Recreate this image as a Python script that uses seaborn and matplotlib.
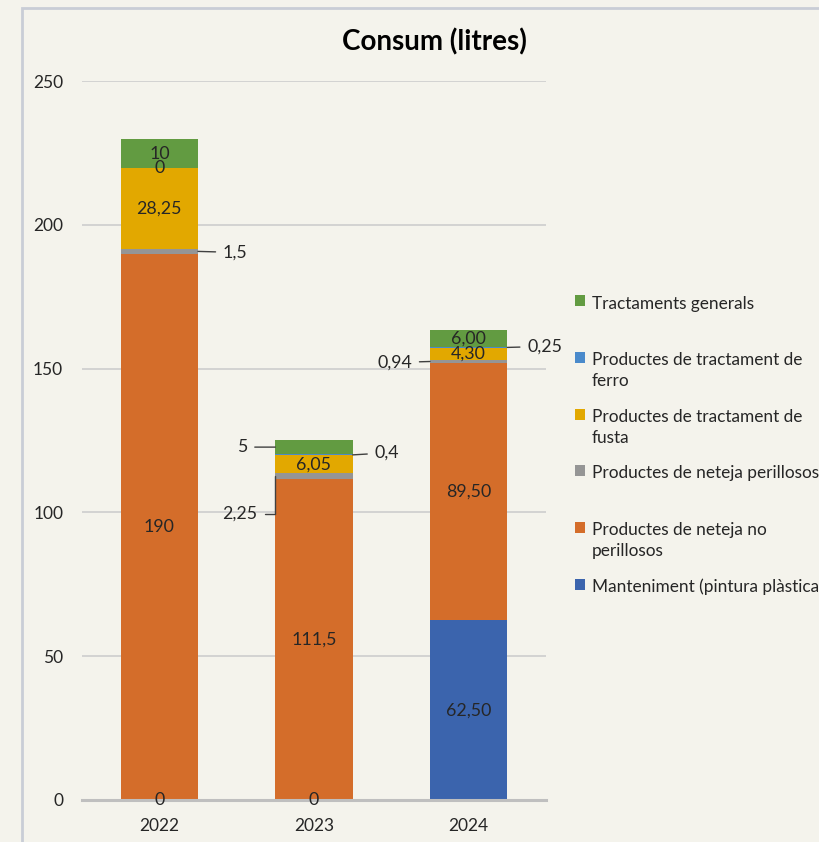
import matplotlib
matplotlib.use("Agg")
import matplotlib.pyplot as plt
import seaborn as sns
import numpy as np
from matplotlib.lines import Line2D

# ---------------- data ----------------
years = ["2022", "2023", "2024"]
manteniment = [0, 0, 62.50]
neteja_no_perillosos = [190, 111.5, 89.50]
neteja_perillosos = [1.5, 2.25, 0.94]
tractament_fusta = [28.25, 6.05, 4.30]
tractament_ferro = [0, 0.4, 0.25]
tractaments_generals = [10, 5, 6.00]

series_names = [
    "Manteniment (pintura plàstica)",
    "Productes de neteja no perillosos",
    "Productes de neteja perillosos",
    "Productes de tractament de fusta",
    "Productes de tractament de ferro",
    "Tractaments generals",
]
legend_labels = [
    "Manteniment (pintura plàstica)",
    "Productes de neteja no\nperillosos",
    "Productes de neteja perillosos\n ",
    "Productes de tractament de\nfusta",
    "Productes de tractament de\nferro",
    "Tractaments generals\n ",
]
series_values = [manteniment, neteja_no_perillosos, neteja_perillosos,
                 tractament_fusta, tractament_ferro, tractaments_generals]
label_decimals = [None, None, 2]  # number format per year
y_ticks = [0, 50, 100, 150, 200, 250]

# ---------------- style ----------------
colors = ["#3B64AD", "#D46D2A", "#959595", "#E2A800", "#4A8ACB", "#629B41"]
bg = "#F4F3EC"
FONT = "Lato"
text_color = "#262626"
LBL = 12.8

# outside-label placements: (series index, year index) -> (dx px, dy px, side)
outside = {
    (2, 0): (25, -1, "right"),
    (2, 1): (-18, -38, "left"),
    (5, 1): (-28, 0, "left"),
    (4, 1): (22, 2, "right"),
    (2, 2): (-18, -1, "left"),
    (4, 2): (20, 1, "right"),
}

sns.set_theme(style="white")
plt.rcParams["font.family"] = [FONT, "DejaVu Sans"]

fig = plt.figure(figsize=(8.2, 8.42), dpi=100, facecolor=bg)
ax = fig.add_axes([82 / 820, 1 - 800 / 842, (546 - 82) / 820, (800 - 81) / 842])
ax.set_facecolor(bg)

bar_width = 0.5
bottom = np.zeros(len(years))
for name, vals, col in zip(series_names, series_values, colors):
    sns.barplot(x=years, y=vals, bottom=bottom.copy(), color=col, saturation=1,
                width=bar_width, ax=ax, label=name, linewidth=0)
    bottom = bottom + np.array(vals, dtype=float)

ax.set_ylim(0, 250)
ax.set_xlim(-0.5, 2.5)
ax.set_yticks(y_ticks)
ax.set_yticklabels([str(t) for t in y_ticks])
ax.grid(axis="y", color="#D0D0D0", linewidth=1.3)
ax.set_axisbelow(True)
for s in ["left", "right", "top"]:
    ax.spines[s].set_visible(False)
ax.spines["bottom"].set_color("#BFBFBF")
ax.spines["bottom"].set_linewidth(2.2)
ax.tick_params(axis="both", length=0, labelsize=12.5, colors=text_color)
ax.tick_params(axis="y", pad=13.5)
ax.tick_params(axis="x", pad=13)
ax.set_xlabel("")
ax.set_ylabel("")


def fmt(v, dec):
    if dec is None:
        s = f"{v:g}"
    else:
        s = f"{v:.{dec}f}"
    return s.replace(".", ",")


# ---------------- data labels ----------------
cum = np.zeros(len(years))
for si, vals in enumerate(series_values):
    for yi, v in enumerate(vals):
        mid = cum[yi] + v / 2
        txt = fmt(v, label_decimals[yi])
        if (si, yi) in outside:
            dx, dy, side = outside[(si, yi)]
            xe = yi + (bar_width / 2 if side == "right" else -bar_width / 2)
            ax.annotate(txt, xy=(xe, mid), xytext=(dx, dy), textcoords="offset pixels",
                        ha="left" if side == "right" else "right", va="center",
                        fontsize=LBL, color=text_color,
                        arrowprops=dict(arrowstyle="-", color="#404040", lw=1,
                                        shrinkA=3, shrinkB=0,
                                        connectionstyle=("angle,angleA=0,angleB=90" if abs(dy) > 10 else "arc3")))
        else:
            ax.text(yi, mid, txt, ha="center", va="center", fontsize=LBL, color=text_color)
    cum = cum + np.array(vals, dtype=float)

# ---------------- legend ----------------
handles, labels = ax.get_legend_handles_labels()
name_to_handle = dict(zip(labels, handles))
ordered_handles = [name_to_handle[n] for n in series_names][::-1]
leg = ax.legend(ordered_handles, legend_labels[::-1], loc="upper left",
                bbox_to_anchor=(575.5 / 820, 1 - 295.5 / 842), bbox_transform=fig.transFigure,
                frameon=False, fontsize=12.4, handlelength=0.58, handleheight=0.58,
                handletextpad=0.35, labelspacing=1.13, borderaxespad=0, borderpad=0)
for t in leg.get_texts():
    t.set_color(text_color)
    t.set_linespacing(1.4)
for colbox in leg._legend_handle_box.get_children():
    for item in colbox.get_children():
        item.align = "top"

# ---------------- title & frame ----------------
fig.text(434 / 820, 1 - 42 / 842, "Consum (litres)", ha="center", va="center",
         fontsize=20, fontweight="bold", color="black")
fx, fy = 22.5 / 820, 1 - 7.5 / 842
fig.lines.append(Line2D([fx, fx, 1.0], [0.0, fy, fy], transform=fig.transFigure,
                        color="#C9CDD6", linewidth=2, solid_joinstyle="miter"))

fig.savefig("out.png", dpi=100, facecolor=bg)
